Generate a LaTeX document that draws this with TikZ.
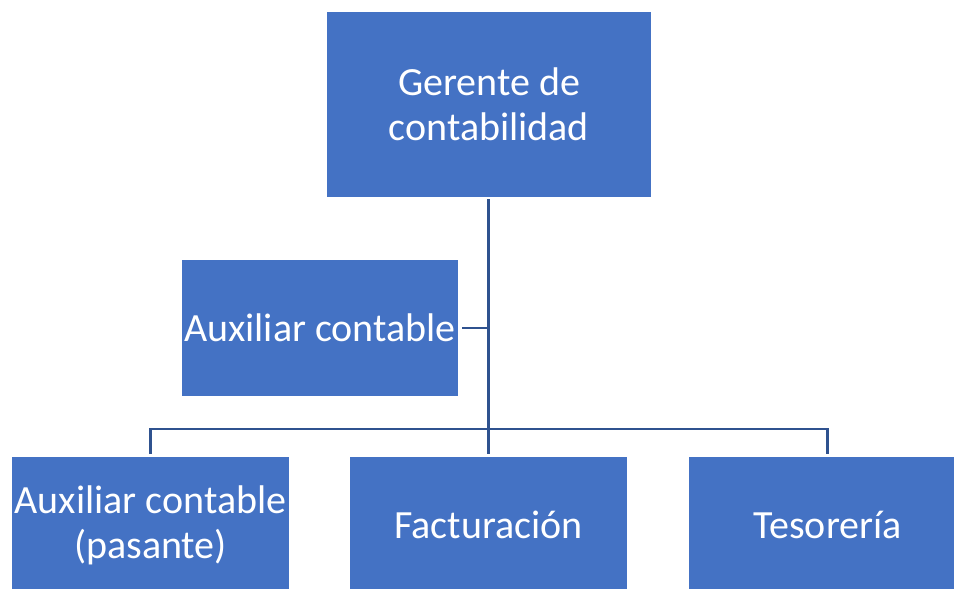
\documentclass[tikz,border=0pt]{standalone}
\usepackage{fontspec}
\setmainfont{Carlito}
\definecolor{boxblue}{HTML}{4472C4}
\definecolor{lineblue}{HTML}{2F528F}
\tikzset{
  orgbox/.style={rectangle, fill=boxblue, draw=none, text=white, inner sep=0pt,
    minimum width=277pt, minimum height=136pt, align=center,
    font=\fontsize{40}{45}\selectfont},
  conn/.style={draw=lineblue, line width=2.4pt}
}
\begin{document}
\begin{tikzpicture}[x=1pt,y=-1pt]
\useasboundingbox (0,0) rectangle (954,589);
\clip (0,0) rectangle (954,589);
\node[orgbox, minimum width=324pt, minimum height=185pt] (top) at (489,104.5) {Gerente de\\contabilidad};
\node[orgbox, minimum width=276pt] (asst) at (320,328) {Auxiliar contable};
\node[orgbox] (b1) at (150.5,525) {Auxiliar contable\\(pasante)};
\node[orgbox] (b2) at (488.5,525) {Facturación};
\node[orgbox] (b3) at (827.5,525) {Tesorería};
\coordinate (bus) at (489,429);
\draw[conn] ([yshift=-2pt]top.south -| b2.north) -- ([yshift=3pt]b2.north);
\draw[conn] ([xshift=4pt]asst.east) -- (asst.east -| b2.north);
\draw[conn] ([yshift=3pt]b1.north) -- (b1.north |- bus) -- (b3.north |- bus) -- ([yshift=3pt]b3.north);
\end{tikzpicture}
\end{document}
